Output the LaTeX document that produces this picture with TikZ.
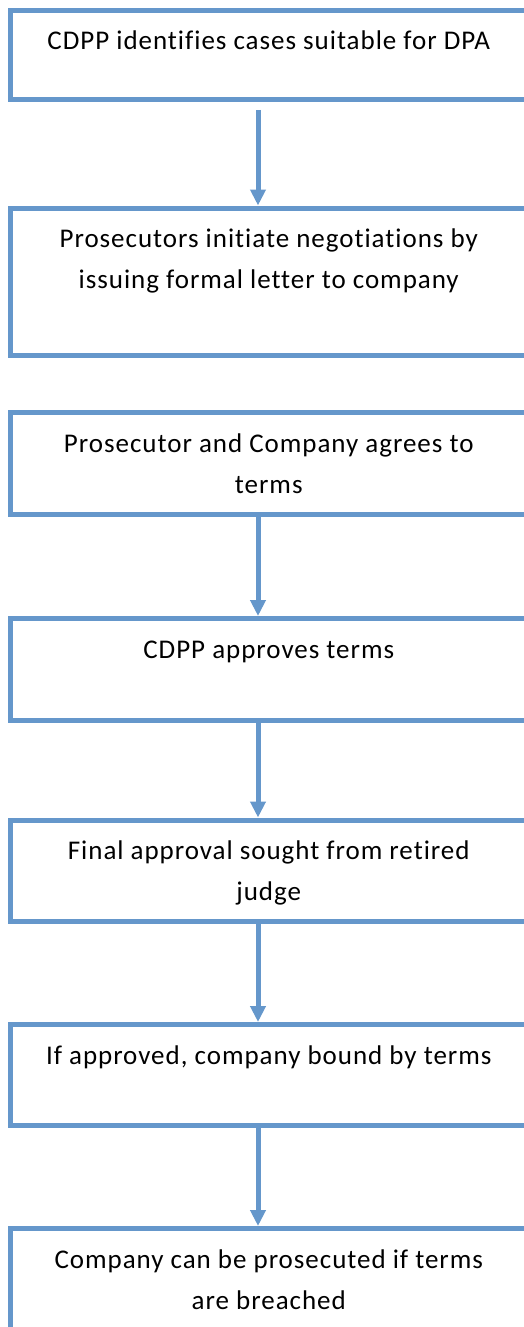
\documentclass[tikz,border=0pt]{standalone}
\usepackage{fontspec}
\setmainfont{Carlito}[Ligatures={NoCommon},LetterSpace=3.6]
\usetikzlibrary{arrows.meta,positioning}
\definecolor{flowline}{HTML}{6597CB}
\tikzset{
  flowbox/.style={draw=flowline,line width=5pt,fill=white,anchor=north,outer sep=0pt,inner sep=0pt,minimum width=516.5pt},
  flowarr/.style={-{Triangle[length=16pt,width=15pt]},line width=5pt,draw=flowline}
}
\newcommand{\flowtext}[2]{\parbox[c][#1][t]{500pt}{\centering\rule{0pt}{39.5pt}#2}}

\begin{document}
\begin{tikzpicture}[x=1pt,y=-1pt,font=\fontsize{27}{41}\selectfont]
  \clip (0,0) rectangle (524,1327);
  \useasboundingbox (0,0) rectangle (524,1327);
  \node[flowbox] (identify) at (268.75,10.5) {\flowtext{89.5pt}{CDPP identifies cases suitable for DPA}};
  \node[flowbox] (initiate) at (268.75,208) {\flowtext{147.5pt}{Prosecutors initiate negotiations by\\issuing formal letter to company}};
  \node[flowbox] (agree) at (268.75,412.5) {\flowtext{102pt}{Prosecutor and Company agrees to\\terms}};
  \node[flowbox] (approve) at (268.75,618.5) {\flowtext{102pt}{CDPP approves terms}};
  \node[flowbox] (judge) at (268.75,820) {\flowtext{101.5pt}{Final approval sought from retired\\judge}};
  \node[flowbox] (bound) at (268.75,1024.5) {\flowtext{101pt}{If approved, company bound by terms}};
  \node[flowbox] (breach) at (268.75,1228.5) {\flowtext{130pt}{Company can be prosecuted if terms\\are breached}};
  \draw[flowarr] ([xshift=-10.75pt,yshift=-10pt]identify.south) -- ([xshift=-10.75pt,yshift=2.5pt]initiate.north);
  \draw[flowarr] ([xshift=-10.75pt]agree.south) -- ([xshift=-10.75pt,yshift=2.5pt]approve.north);
  \draw[flowarr] ([xshift=-10.75pt]approve.south) -- ([xshift=-10.75pt,yshift=2.5pt]judge.north);
  \draw[flowarr] ([xshift=-10.75pt]judge.south) -- ([xshift=-10.75pt,yshift=2.5pt]bound.north);
  \draw[flowarr] ([xshift=-10.75pt]bound.south) -- ([xshift=-10.75pt,yshift=2.5pt]breach.north);
\end{tikzpicture}
\end{document}
